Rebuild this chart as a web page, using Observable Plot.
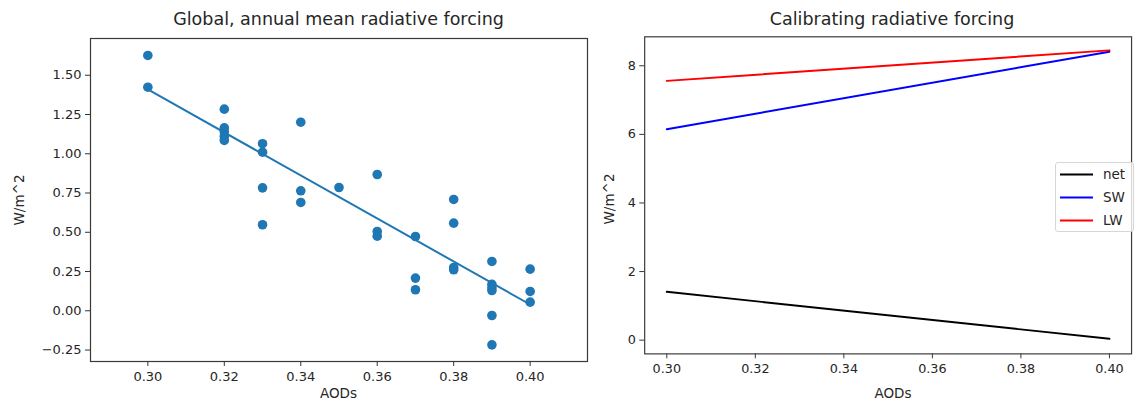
<!DOCTYPE html>
<html>
<head>
<meta charset="utf-8">
<script src="https://cdn.jsdelivr.net/npm/d3@7"></script>
<script src="https://cdn.jsdelivr.net/npm/@observablehq/plot@0.6"></script>
<style>
  html, body { margin: 0; padding: 0; background: #fff; overflow: hidden; }
  body { width: 1135px; height: 403px; position: relative; font-family: "DejaVu Sans", sans-serif; color: #262626; }
  .panel { position: absolute; top: 0; }
  .title { position: absolute; top: 9px; font-size: 17.5px; text-align: center; white-space: nowrap; transform: translateX(-50%); }
  .xlabel { position: absolute; top: 385px; font-size: 13.5px; transform: translateX(-50%); white-space: nowrap; }
  .ylabel { position: absolute; font-size: 13.5px; white-space: nowrap; transform: translate(-50%, -50%) rotate(-90deg); }
  .legend { position: absolute; left: 1055px; top: 162px; width: 79px; height: 70px; box-sizing: border-box;
            border: 1px solid #d6d6d6; border-radius: 3px; background: rgba(255,255,255,0.8); font-size: 13.5px; }
  .legend .row { position: absolute; left: 0; height: 16px; }
  .legend svg { position: absolute; left: 4px; top: 7px; }
  .legend span { position: absolute; left: 47px; top: 0; line-height: 16px; }
</style>
</head>
<body>
<div id="left" class="panel" style="left:0"></div>
<div id="right" class="panel" style="left:600px"></div>
<script>
// Aerosol optical depth of each sample and its global annual mean forcing (W/m^2)
const aod = [
  0.30, 0.30,
  0.32, 0.32, 0.32, 0.32, 0.32,
  0.33, 0.33, 0.33, 0.33,
  0.34, 0.34, 0.34,
  0.35,
  0.36, 0.36, 0.36,
  0.37, 0.37, 0.37,
  0.38, 0.38, 0.38, 0.38,
  0.39, 0.39, 0.39, 0.39, 0.39, 0.39,
  0.40, 0.40, 0.40
];
const forcing = [
  1.626, 1.424,
  1.284, 1.165, 1.14, 1.11, 1.085,
  1.064, 1.01, 0.783, 0.548,
  1.201, 0.764, 0.69,
  0.785,
  0.868, 0.505, 0.475,
  0.473, 0.208, 0.134,
  0.709, 0.558, 0.276, 0.261,
  0.314, 0.168, 0.146, 0.129, -0.03, -0.217,
  0.265, 0.123, 0.055
];

// Calibrated forcing at the ends of the AOD range
const aodFit = [0.30, 0.40];
const netFit = [1.41, 0.04];
const swFit = [6.15, 8.41];
const lwFit = [7.56, 8.45];

// Tick values
const xTicks = [0.30, 0.32, 0.34, 0.36, 0.38, 0.40];
const yTicksLeft = [-0.25, 0, 0.25, 0.5, 0.75, 1.0, 1.25, 1.5];
const yTicksRight = [0, 2, 4, 6, 8];

const seriesNames = ["net", "SW", "LW"];
const seriesColors = ["#000000", "#0000ff", "#ff0000"];

const scatter = aod.map((x, i) => ({aod: x, forcing: forcing[i]}));
const fitRows = aodFit.map((x, i) => ({aod: x, net: netFit[i], SW: swFit[i], LW: lwFit[i]}));
const longRows = seriesNames.flatMap(s => fitRows.map(r => ({aod: r.aod, value: r[s], series: s})));

const baseStyle = {fontFamily: "DejaVu Sans, sans-serif", color: "#262626", background: "white", overflow: "visible"};
const fmt2 = d3.format(".2f");
const tickFont = 13;

const xAxis = () => Plot.axisX({ticks: xTicks, tickFormat: fmt2, label: null, tickSize: 5, tickPadding: 5, fontSize: tickFont, stroke: "#333"});

const leftPlot = Plot.plot({
  width: 600, height: 403,
  marginLeft: 90, marginRight: 13, marginTop: 38, marginBottom: 42,
  style: baseStyle,
  x: {domain: [0.285, 0.415]},
  y: {domain: [-0.323, 1.734]},
  marks: [
    xAxis(),
    Plot.axisY({ticks: yTicksLeft, tickFormat: fmt2, label: null, tickSize: 5, tickPadding: 4, fontSize: tickFont, stroke: "#333"}),
    Plot.dot(scatter, {x: "aod", y: "forcing", r: 4.8, fill: "#1f77b4", stroke: "none"}),
    Plot.line(fitRows, {x: "aod", y: "net", stroke: "#1f77b4", strokeWidth: 2}),
    Plot.frame({stroke: "#3a3a3a", strokeWidth: 1.2})
  ]
});
document.getElementById("left").appendChild(leftPlot);

const rightPlot = Plot.plot({
  width: 545, height: 403,
  marginLeft: 45, marginRight: 4, marginTop: 37, marginBottom: 43,
  style: baseStyle,
  x: {domain: [0.295, 0.405]},
  y: {domain: [-0.40, 8.845]},
  color: {domain: seriesNames, range: seriesColors},
  marks: [
    xAxis(),
    Plot.axisY({ticks: yTicksRight, tickFormat: d => String(d), label: null, tickSize: 5, tickPadding: 4, fontSize: tickFont, stroke: "#333"}),
    Plot.line(longRows, {x: "aod", y: "value", z: "series", stroke: "series", strokeWidth: 2}),
    Plot.frame({stroke: "#3a3a3a", strokeWidth: 1.2})
  ]
});
document.getElementById("right").appendChild(rightPlot);

// Titles, axis labels and legend
function addDiv(cls, text, css) {
  const d = document.createElement("div");
  d.className = cls;
  d.textContent = text;
  Object.assign(d.style, css);
  document.body.appendChild(d);
  return d;
}
addDiv("title", "Global, annual mean radiative forcing", {left: "338.5px"});
addDiv("title", "Calibrating radiative forcing", {left: "892px"});
addDiv("xlabel", "AODs", {left: "338.5px"});
addDiv("xlabel", "AODs", {left: "893px"});
addDiv("ylabel", "W/m^2", {left: "19px", top: "200px"});
addDiv("ylabel", "W/m^2", {left: "609px", top: "199px"});

const legend = document.createElement("div");
legend.className = "legend";
seriesNames.forEach((name, i) => {
  const row = document.createElement("div");
  row.className = "row";
  row.style.top = (3 + i * 23) + "px";
  row.style.width = "100%";
  row.innerHTML = `<svg width="34" height="3"><line x1="0" x2="33" y1="1.5" y2="1.5" stroke="${seriesColors[i]}" stroke-width="2"/></svg><span>${name}</span>`;
  legend.appendChild(row);
});
document.body.appendChild(legend);
</script>
</body>
</html>
